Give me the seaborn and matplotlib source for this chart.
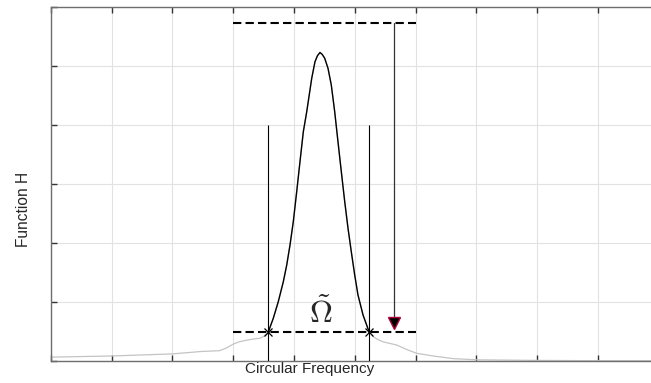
import numpy as np
import pandas as pd
import matplotlib
matplotlib.use("Agg")
import matplotlib.pyplot as plt
import seaborn as sns

# curve (x in grid units, H in grid units)
freq = [0.0, 1.0, 2.0, 2.46, 2.78, 2.9, 3.0, 3.1, 3.23, 3.35, 3.44, 3.5, 3.58,
        3.661, 3.743, 3.826, 3.882, 3.936, 3.990, 4.046, 4.100, 4.155, 4.211,
        4.293, 4.347, 4.388, 4.429, 4.467, 4.507, 4.561, 4.615, 4.671, 4.725,
        4.780, 4.836, 4.890, 4.944, 5.0, 5.054, 5.137, 5.219, 5.243,
        5.30, 5.38, 5.465, 5.69, 5.855, 6.02, 6.29, 6.62, 7.01, 8.0, 9.0, 10.0]
H = [0.06, 0.08, 0.115, 0.155, 0.17, 0.22, 0.28, 0.32, 0.35, 0.37, 0.38, 0.41, 0.49,
     0.719, 1.0, 1.339, 1.622, 1.961, 2.356, 2.864, 3.373, 3.881, 4.22,
     4.786, 5.068, 5.17, 5.224, 5.19, 5.125, 4.956, 4.673, 4.22, 3.712,
     3.203, 2.695, 2.244, 1.847, 1.453, 1.114, 0.775, 0.54, 0.49,
     0.41, 0.36, 0.32, 0.266, 0.19, 0.125, 0.08, 0.035, 0.015, 0.005, 0.0, 0.0]

# bandwidth markers
cross_x = [3.58, 5.243]
level_low = 0.49
level_high = 5.73
band = [3.0, 6.0]
vline_top = 4.0
arrow_x = 5.646
arrow_tip = 0.634
omega_pos = (4.44, 0.64)

df = pd.DataFrame({"freq": freq, "H": H})
peak = df[(df["freq"] >= cross_x[0]) & (df["freq"] <= cross_x[1])]

sns.set_theme(style="whitegrid")
plt.rcParams["font.family"] = ["Liberation Sans", "DejaVu Sans"]

fig = plt.figure(figsize=(6.51, 3.83), dpi=100)
ax = fig.add_axes([50.7 / 651, 22.3 / 383, 608 / 651, 354 / 383])

sns.lineplot(data=df, x="freq", y="H", color="#c4c4c4", linewidth=0.9, ax=ax, zorder=2)
sns.lineplot(data=peak, x="freq", y="H", color="black", linewidth=1.0, ax=ax, zorder=3)

# dashed levels
for lvl in [level_low, level_high]:
    ax.plot(band, [lvl, lvl], color="black", linewidth=1.5, dashes=(4, 2), zorder=4)

# vertical bandwidth lines and crossings
ax.vlines(cross_x, 0, vline_top, color="black", linewidth=0.8, zorder=3)
ax.plot(cross_x, [level_low, level_low], linestyle="none", marker="x",
        color="black", markersize=6, markeredgewidth=0.9, zorder=5)

# arrow from peak level down to bandwidth level
ax.plot([arrow_x, arrow_x], [level_high, arrow_tip], color="#333333", linewidth=0.9, zorder=4)
ax.plot([arrow_x], [arrow_tip], marker="v", markersize=9, color="black",
        markeredgecolor="#b0003a", markeredgewidth=1.0, linestyle="none", zorder=6)

ax.text(omega_pos[0], omega_pos[1], r"$\tilde{\Omega}$", fontsize=23,
        ha="center", va="baseline", math_fontfamily="cm", zorder=6)

ax.set_xlim(0, 10)
ax.set_ylim(0, 6)
ax.set_xticks(np.arange(0, 11, 1))
ax.set_yticks(np.arange(0, 7, 1))
ax.set_xticklabels([])
ax.set_yticklabels([])
ax.grid(True, color="#e2e2e2", linewidth=0.8)
ax.tick_params(direction="in", length=4.5, width=1, color="#333333",
               top=True, right=True, bottom=True, left=True)
for s in ax.spines.values():
    s.set_color("#6e6e6e")
    s.set_linewidth(1.0)

ax.set_xlabel("Circular Frequency", fontsize=11, color="#262626")
ax.set_ylabel("Function H", fontsize=11.2, color="#262626")
ax.xaxis.set_label_coords(0.4265, -0.004)
ax.yaxis.set_label_coords(-0.033, 0.427)

fig.savefig("out.png", dpi=100)
